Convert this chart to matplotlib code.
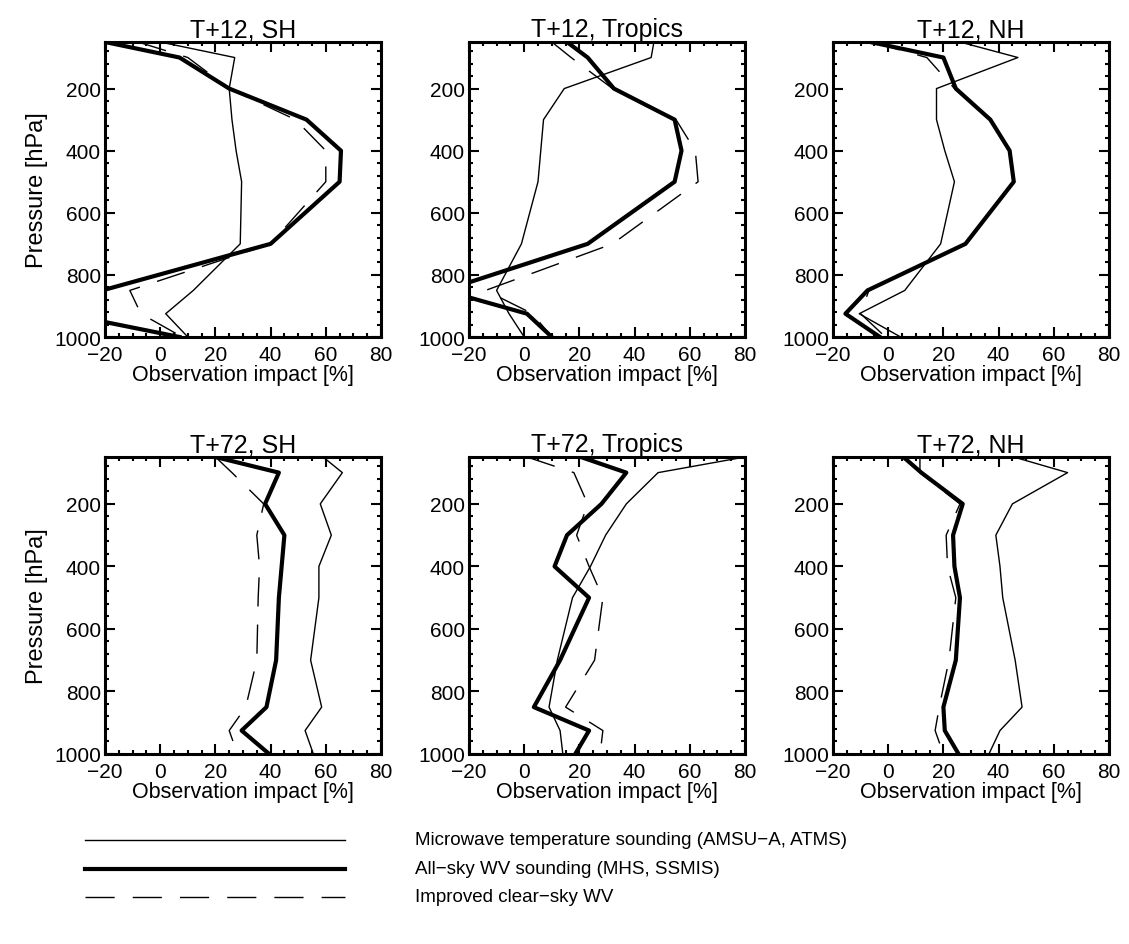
import matplotlib
matplotlib.use("Agg")
import matplotlib.pyplot as plt
from matplotlib.lines import Line2D
from matplotlib.ticker import MultipleLocator

plt.rcParams['font.family'] = ['Liberation Sans', 'DejaVu Sans']

# pressure levels [hPa]
levels = [50, 100, 200, 300, 400, 500, 700, 850, 925, 1000]

# observation impact [%] per panel
# T+12
mw_12_sh = [0, 27, 25, 26, 27.5, 29.5, 29, 12, 2, 10]
allsky_12_sh = [-20, 7, 25, 53, 65.5, 65, 40, -21, -35, 7]
clear_12_sh = [-8, 10, 25, 49, 60, 60, 40, -11, -7, 8]

mw_12_tr = [47, 46, 14.5, 7, 6, 5, -1, -10, -5.5, 0]
allsky_12_tr = [15.5, 23, 32.5, 54.5, 57, 54.5, 23, -29, 1, 10]
clear_12_tr = [10, 17, 32, 55, 62, 63, 32, -14, 3, 10]

mw_12_nh = [26, 47, 17.5, 17.5, 20.5, 24, 19, 6, -10.5, 4.5]
allsky_12_nh = [-6.5, 20, 24.5, 37, 44, 45.5, 28, -7.5, -15.5, -3]
clear_12_nh = [-6, 14, 24, 37, 44, 45.5, 28, -7, -10, -1]

# T+72
mw_72_sh = [59, 66, 58, 62, 57.5, 57.5, 54.5, 58.5, 52.5, 55.5]
allsky_72_sh = [20, 43, 38, 45, 44, 43, 42, 38.5, 29.5, 39.5]
clear_72_sh = [20, 26, 37.5, 35, 36, 35.5, 35, 31, 25, 28]

mw_72_tr = [80, 48.5, 37, 29.5, 24, 17.5, 12, 9, 13, 14]
allsky_72_tr = [20.5, 37, 28, 15.5, 11, 23.5, 13, 3.5, 23.5, 18.5]
clear_72_tr = [1, 18, 23, 19, 23.5, 28.5, 25.5, 15, 28.5, 27.5]

mw_72_nh = [45.5, 65, 45, 39, 40.5, 41.5, 46, 48.5, 40.5, 36.5]
allsky_72_nh = [5.5, 12, 27, 23.5, 24, 26, 24.5, 20, 20.5, 25.5]
clear_72_nh = [11.5, 11.5, 26, 21, 21.5, 24.5, 22, 18.5, 17, 20]

titles = ["T+12, SH", "T+12, Tropics", "T+12, NH",
          "T+72, SH", "T+72, Tropics", "T+72, NH"]
panels = [
    (mw_12_sh, allsky_12_sh, clear_12_sh),
    (mw_12_tr, allsky_12_tr, clear_12_tr),
    (mw_12_nh, allsky_12_nh, clear_12_nh),
    (mw_72_sh, allsky_72_sh, clear_72_sh),
    (mw_72_tr, allsky_72_tr, clear_72_tr),
    (mw_72_nh, allsky_72_nh, clear_72_nh),
]

legend_labels = ["Microwave temperature sounding (AMSU\u2212A, ATMS)",
                 "All\u2212sky WV sounding (MHS, SSMIS)",
                 "Improved clear\u2212sky WV"]

# line styles
thin = dict(color='black', lw=1.0)
thick = dict(color='black', lw=3.0)
dashed = dict(color='black', lw=1.0, dashes=(21, 13))

fig = plt.figure(figsize=(11.29, 9.45), dpi=100)

W, H = 1129.0, 945.0
lefts = [105, 469, 833]
width = 276
rows = [(43, 338), (458, 755)]

for i, (title, (mw, allsky, clear)) in enumerate(zip(titles, panels)):
    r, c = divmod(i, 3)
    top, bot = rows[r]
    ax = fig.add_axes([lefts[c] / W, 1 - bot / H, width / W, (bot - top) / H])

    ax.plot(mw, levels, **thin)
    ax.plot(allsky, levels, **thick)
    ax.plot(clear, levels, **dashed)

    ax.set_xlim(-20, 80)
    ax.set_ylim(1000, 50)
    ax.set_xticks([-20, 0, 20, 40, 60, 80])
    ax.set_xticklabels(['\u221220', '0', '20', '40', '60', '80'])
    ax.set_yticks([200, 400, 600, 800, 1000])
    ax.xaxis.set_minor_locator(MultipleLocator(5))
    ax.yaxis.set_minor_locator(MultipleLocator(40))
    ax.tick_params(which='both', direction='in', top=True, right=True,
                   labelsize=15, width=1.5)
    ax.tick_params(which='major', length=7)
    ax.tick_params(axis='x', which='major', pad=6)
    ax.tick_params(axis='y', which='major', pad=3)
    ax.tick_params(which='minor', length=3)
    for s in ax.spines.values():
        s.set_linewidth(2.2)

    ax.set_title(title, fontsize=18, pad=4)
    ax.set_xlabel("Observation impact [%]", fontsize=15.5, labelpad=0)
    if c == 0:
        ax.set_ylabel("Pressure [hPa]", fontsize=17, labelpad=4)

# legend drawn in figure pixels
leg_y = [841, 870, 898]
for y, style, label in zip(leg_y, [thin, thick, dashed], legend_labels):
    fig.add_artist(Line2D([85 / W, 345 / W], [1 - y / H, 1 - y / H],
                          transform=fig.transFigure, **style))
    fig.text(415 / W, 1 - y / H, label, fontsize=13.5, va='center', ha='left')

fig.savefig("out.png", dpi=100)
